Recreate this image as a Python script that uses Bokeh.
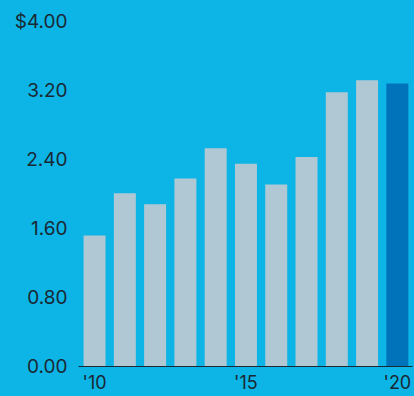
from bokeh.plotting import figure
from bokeh.models import FixedTicker, ColumnDataSource
from bokeh.embed import file_html
from bokeh.resources import INLINE

years = [2010, 2011, 2012, 2013, 2014, 2015, 2016, 2017, 2018, 2019, 2020]
values = [1.52, 2.01, 1.88, 2.18, 2.53, 2.35, 2.11, 2.43, 3.18, 3.32, 3.28]
colors = ["#B0C8D4"] * 10 + ["#0073BB"]
x_ticks = [2010, 2015, 2020]
x_labels = {2010: "'10", 2015: "'15", 2020: "'20"}
y_ticks = [0.0, 0.8, 1.6, 2.4, 3.2, 4.0]
y_labels = {0: "0.00", 0.8: "0.80", 1.6: "1.60", 2.4: "2.40", 3.2: "3.20", 4: "$4.00"}

BG = "#0DB4E6"
TXT = "#1A2833"
FONT = "Inter"

src = ColumnDataSource(dict(x=years, top=values, color=colors))

p = figure(width=414, height=396, output_backend="svg", toolbar_location=None,
           x_range=(2009.47, 2020.5), y_range=(0, 4.2435),
           min_border_left=78, min_border_right=2, min_border_top=0, min_border_bottom=30)
p.background_fill_color = BG
p.border_fill_color = BG
p.outline_line_color = None
p.grid.visible = False

p.vbar(x="x", top="top", bottom=0, width=0.726, fill_color="color", line_color=None, source=src)

xa = p.xaxis[0]
xa.ticker = FixedTicker(ticks=x_ticks)
xa.major_label_overrides = x_labels
xa.axis_line_color = TXT
xa.axis_line_width = 1
xa.major_tick_line_color = None
xa.minor_tick_line_color = None
xa.major_tick_out = 0
xa.major_tick_in = 0
xa.major_label_standoff = 5
xa.major_label_text_font = FONT
xa.major_label_text_font_size = "18px"
xa.major_label_text_color = TXT

ya = p.yaxis[0]
ya.ticker = FixedTicker(ticks=y_ticks)
ya.major_label_overrides = y_labels
ya.axis_line_color = None
ya.major_tick_line_color = None
ya.minor_tick_line_color = None
ya.major_tick_out = 0
ya.major_tick_in = 0
ya.major_label_standoff = 11
ya.major_label_text_font = FONT
ya.major_label_text_font_size = "19px"
ya.major_label_text_color = TXT

html = file_html(p, INLINE)
html = html.replace("<head>", "<head><style>html,body{margin:0;padding:0;background:%s;}</style>" % BG, 1)
open("out.html", "w").write(html)
